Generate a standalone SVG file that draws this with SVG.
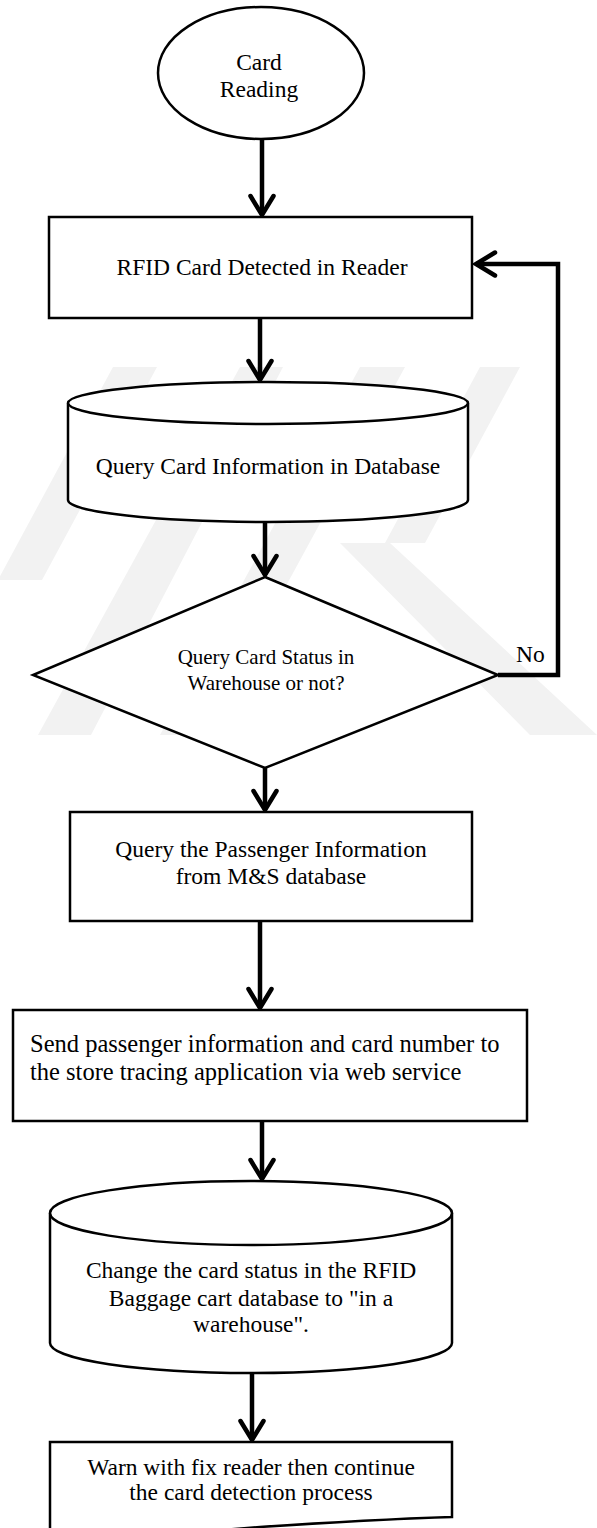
<svg xmlns="http://www.w3.org/2000/svg" width="597" height="1528" viewBox="0 0 597 1528">
  <defs>
    <style>
      .shape { fill: #ffffff; stroke: #000000; stroke-width: 2.5; }
      .flow { fill: none; stroke: #000000; stroke-width: 4.5; }
      .label { font-family: "Liberation Serif", "Times New Roman", serif; font-size: 23.5px; fill: #000000; text-anchor: middle; }
      .small { font-size: 21px; }
      .left { text-anchor: start; }
      .mark { fill: #f2f2f2; }
    </style>
    <marker id="head" viewBox="-24 -16 30 32" refX="0" refY="0" markerWidth="30" markerHeight="32" markerUnits="userSpaceOnUse" orient="auto">
      <path d="M-19,-11.5 L0,0 L-19,11.5" fill="none" stroke="#000000" stroke-width="4.5" stroke-linejoin="miter" stroke-linecap="round"/>
    </marker>
    <clipPath id="cutTop">
      <rect x="0" y="1317" width="597" height="40"/>
    </clipPath>
  </defs>

  <rect width="597" height="1528" fill="#ffffff"/>

  <!-- faint background emblem -->
  <g id="emblem">
    <polygon class="mark" points="113,367 157,367 42,580 -2,580"/>
    <polygon class="mark" points="240,367 283,367 91,735 38,735"/>
    <polygon class="mark" points="360,367 405,367 205,735 160,735"/>
    <polygon class="mark" points="480,367 520,367 425,543 385,543"/>
    <polygon class="mark" points="340,543 390,543 597,735 530,735"/>
  </g>

  <g id="connectors">
    <line class="flow" x1="262" y1="140" x2="262" y2="215" marker-end="url(#head)"/>
    <line class="flow" x1="260" y1="318" x2="260" y2="380" marker-end="url(#head)"/>
    <line class="flow" x1="265" y1="522" x2="265" y2="575" marker-end="url(#head)"/>
    <polyline class="flow" points="498,675 558,675 558,264 476,264" marker-end="url(#head)"/>
    <line class="flow" x1="265" y1="768" x2="265" y2="810" marker-end="url(#head)"/>
    <line class="flow" x1="260" y1="921" x2="260" y2="1008" marker-end="url(#head)"/>
    <line class="flow" x1="262" y1="1121" x2="262" y2="1179" marker-end="url(#head)"/>
    <line class="flow" x1="252" y1="1373" x2="252" y2="1440" marker-end="url(#head)"/>
    <text class="label left" x="516" y="662">No</text>
  </g>

  <g id="start">
    <ellipse class="shape" cx="261" cy="73" rx="103" ry="66"/>
    <text class="label" x="259" y="70">Card</text>
    <text class="label" x="259" y="97">Reading</text>
  </g>

  <g id="detect">
    <rect class="shape" x="49" y="217" width="423" height="101"/>
    <text class="label" x="262" y="275">RFID Card Detected in Reader</text>
  </g>

  <g id="query-db">
    <path class="shape" d="M68,403 A200,21 0 0 1 468,403 V500 A200,22 0 0 1 68,500 Z"/>
    <path class="shape" fill="none" d="M68,403 A200,21 0 0 0 468,403"/>
    <text class="label" x="268" y="474">Query Card Information in Database</text>
  </g>

  <g id="status">
    <polygon class="shape" points="265,577 498,675 265,768 33,675"/>
    <text class="label small" x="266" y="664">Query Card Status in</text>
    <text class="label small" x="266" y="690">Warehouse or not?</text>
  </g>

  <g id="passenger">
    <rect class="shape" x="70" y="812" width="402" height="109"/>
    <text class="label" x="271" y="857">Query the Passenger Information</text>
    <text class="label" x="271" y="884">from M&amp;S database</text>
  </g>

  <g id="send">
    <rect class="shape" x="13" y="1010" width="514" height="111"/>
    <text class="label left" x="30" y="1052" style="font-size:24.5px">Send passenger information and card number to</text>
    <text class="label left" x="30" y="1080" style="font-size:24.5px">the store tracing application via web service</text>
  </g>

  <g id="update-db">
    <path class="shape" d="M50,1213 A201,32 0 0 1 452,1213 V1343 A201,30 0 0 1 50,1343 Z"/>
    <path class="shape" fill="none" d="M50,1213 A201,32 0 0 0 452,1213"/>
    <text class="label" x="251" y="1278">Change the card status in the RFID</text>
    <text class="label" x="251" y="1306">Baggage cart database to "in a</text>
    <text class="label" x="251" y="1332" clip-path="url(#cutTop)">warehouse".</text>
  </g>

  <g id="warn">
    <path class="shape" d="M50,1442 H452 V1517 C390,1519 320,1523 260,1527 C190,1532 110,1542 50,1550 Z"/>
    <text class="label" x="251" y="1475">Warn with fix reader then continue</text>
    <text class="label" x="251" y="1500">the card detection process</text>
  </g>
</svg>
